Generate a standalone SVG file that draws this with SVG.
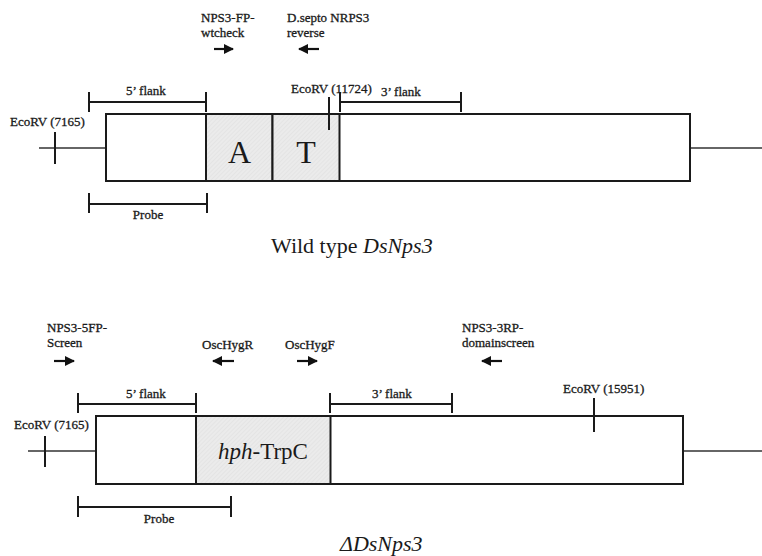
<svg xmlns="http://www.w3.org/2000/svg" width="762" height="556" viewBox="0 0 762 556">
<defs>
<marker id="ah" viewBox="0 0 10 10" refX="9" refY="5" markerWidth="10" markerHeight="10" markerUnits="userSpaceOnUse" orient="auto">
<path d="M0,0 L10,5 L0,10 Z" fill="#111"/>
</marker>
<pattern id="hatch" width="3" height="3" patternUnits="userSpaceOnUse" patternTransform="rotate(45)">
<rect width="3" height="3" fill="#ebebeb"/>
<line x1="0" y1="0" x2="0" y2="3" stroke="#dedede" stroke-width="1"/>
</pattern>
</defs>
<style>
text{font-family:"Liberation Serif","DejaVu Serif",serif;fill:#1a1a1a}
.lbl{font-size:13px;stroke:#1a1a1a;stroke-width:0.3}
.title{font-size:22px}
.big{font-size:32px;text-anchor:middle}
.box{fill:#fff;stroke:#1a1a1a;stroke-width:2}
.dom{fill:url(#hatch);stroke:#1a1a1a;stroke-width:2}
.ln{stroke:#333;stroke-width:1.5;fill:none}
.tk{stroke:#1a1a1a;stroke-width:2;fill:none}
.br{stroke:#1a1a1a;stroke-width:2;fill:none}
.arr{stroke:#111;stroke-width:2.2;fill:none;marker-end:url(#ah)}
</style>
<rect width="762" height="556" fill="#fff"/>

<g id="wildtype">
<g id="wt-backbone">
<line class="ln" x1="39" y1="148" x2="106" y2="148"/>
<line class="ln" x1="690" y1="148" x2="762" y2="148"/>
</g>
<g id="wt-gene"><rect class="box" x="106" y="114" width="584" height="67"/></g>
<g id="wt-A"><rect class="dom" x="206" y="114" width="66.5" height="67"/><text class="big" x="239.5" y="163">A</text></g>
<g id="wt-T"><rect class="dom" x="272.5" y="114" width="67" height="67"/><text class="big" x="306" y="163">T</text></g>
<g id="wt-ecorv-7165"><line class="tk" x1="55" y1="132" x2="55" y2="164"/><text class="lbl" x="10" y="126">EcoRV (7165)</text></g>
<g id="wt-ecorv-11724"><line class="tk" x1="329" y1="97" x2="329" y2="130"/><text class="lbl" x="291" y="93">EcoRV (11724)</text></g>
<g id="wt-5flank"><path class="br" d="M89,92 V112 M89,102 H206 M206,92 V112"/><text class="lbl" x="126" y="95">5’ flank</text></g>
<g id="wt-3flank"><path class="br" d="M340,92 V112 M340,102 H461 M461,92 V112"/><text class="lbl" x="381" y="96">3’ flank</text></g>
<g id="wt-probe"><path class="br" d="M89,193 V213 M89,204 H207 M207,193 V213"/><text class="lbl" x="148" y="219" text-anchor="middle">Probe</text></g>
<g id="wt-primer-fp"><text class="lbl" x="201" y="22">NPS3-FP-</text><text class="lbl" x="201" y="37">wtcheck</text></g>
<g id="wt-primer-rev"><text class="lbl" x="287" y="22">D.septo NRPS3</text><text class="lbl" x="287" y="37">reverse</text></g>
<text id="wt-title" class="title" x="271" y="253">Wild type <tspan font-style="italic">DsNps3</tspan></text>
</g>

<g id="mutant">
<g id="mt-backbone">
<line class="ln" x1="28" y1="451" x2="96" y2="451"/>
<line class="ln" x1="683" y1="451" x2="762" y2="451"/>
</g>
<g id="mt-gene"><rect class="box" x="96" y="416" width="587" height="68"/></g>
<g id="mt-hph"><rect class="dom" x="196" y="416" width="134.5" height="68"/><text x="263" y="459" font-size="23" text-anchor="middle"><tspan font-style="italic">hph</tspan>-TrpC</text></g>
<g id="mt-ecorv-7165"><line class="tk" x1="45" y1="436" x2="45" y2="467"/><text class="lbl" x="14" y="429">EcoRV (7165)</text></g>
<g id="mt-ecorv-15951"><line class="tk" x1="594" y1="398" x2="594" y2="432"/><text class="lbl" x="563" y="393">EcoRV (15951)</text></g>
<g id="mt-5flank"><path class="br" d="M78,393 V413 M78,404 H196 M196,393 V413"/><text class="lbl" x="126" y="398">5’ flank</text></g>
<g id="mt-3flank"><path class="br" d="M330,393 V413 M330,404 H452 M452,393 V413"/><text class="lbl" x="372" y="398">3’ flank</text></g>
<g id="mt-probe"><path class="br" d="M78,496 V517 M78,507 H231 M231,496 V517"/><text class="lbl" x="159" y="523" text-anchor="middle">Probe</text></g>
<g id="mt-primer-5fp"><text class="lbl" x="47" y="332">NPS3-5FP-</text><text class="lbl" x="47" y="347">Screen</text></g>
<g id="mt-primer-hygr"><text class="lbl" x="202" y="349">OscHygR</text></g>
<g id="mt-primer-hygf"><text class="lbl" x="285" y="349">OscHygF</text></g>
<g id="mt-primer-3rp"><text class="lbl" x="462" y="332">NPS3-3RP-</text><text class="lbl" x="462" y="347">domainscreen</text></g>
<text id="mt-title" class="title" x="340" y="551" font-style="italic">ΔDsNps3</text>
</g>

<g id="connectors">
<line class="arr" x1="214" y1="49" x2="233" y2="49"/>
<line class="arr" x1="319" y1="49" x2="299" y2="49"/>
<line class="arr" x1="54" y1="361" x2="74" y2="361"/>
<line class="arr" x1="234" y1="361" x2="213" y2="361"/>
<line class="arr" x1="297" y1="361" x2="317" y2="361"/>
<line class="arr" x1="502" y1="361" x2="482" y2="361"/>
</g>
</svg>
